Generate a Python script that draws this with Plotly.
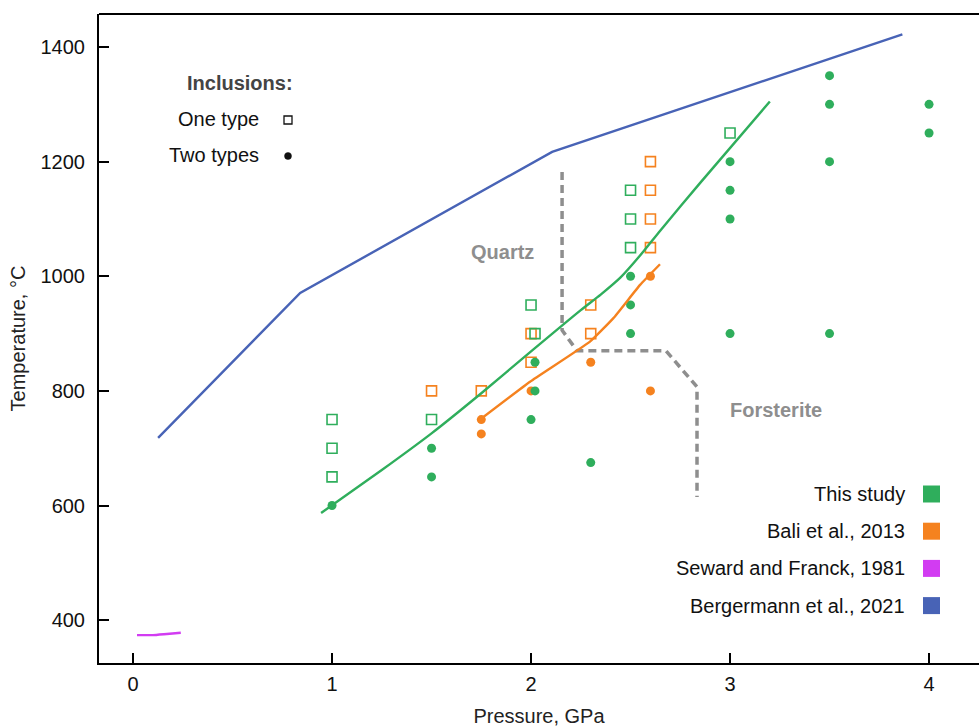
import plotly.graph_objects as go

# ---------------- data ----------------
# This study: runs with one type of inclusion (open squares)
this_one_P = [1.0, 1.0, 1.0, 1.5, 2.0, 2.02, 2.5, 2.5, 2.5, 3.0]
this_one_T = [750, 700, 650, 750, 950, 900, 1150, 1100, 1050, 1250]
# This study: runs with two types of inclusions (filled circles)
this_two_P = [1.0, 1.5, 1.5, 2.02, 2.02, 2.0, 2.3, 2.5, 2.5, 2.5,
              3.0, 3.0, 3.0, 3.0, 3.5, 3.5, 3.5, 3.5, 4.0, 4.0]
this_two_T = [600, 700, 650, 850, 800, 750, 675, 1000, 950, 900,
              1200, 1150, 1100, 900, 1350, 1300, 1200, 900, 1300, 1250]

# Bali et al., 2013
bali_one_P = [1.5, 1.75, 2.0, 2.0, 2.3, 2.3, 2.6, 2.6, 2.6, 2.6]
bali_one_T = [800, 800, 900, 850, 950, 900, 1200, 1150, 1100, 1050]
bali_two_P = [1.75, 1.75, 2.0, 2.3, 2.6, 2.6]
bali_two_T = [750, 725, 800, 850, 1000, 800]

# Critical curves
this_curve_P = [0.945, 1.25, 1.5, 1.75, 2.0, 2.25, 2.35, 2.45, 2.55, 2.65, 2.85, 3.2]
this_curve_T = [587, 662, 726, 796, 869, 941, 968, 998, 1037, 1080, 1163, 1305]
bali_curve_P = [1.744, 1.995, 2.296, 2.414, 2.548, 2.648]
bali_curve_T = [750, 816, 886, 927, 985, 1021]
seward_P = [0.02, 0.1, 0.17, 0.24]
seward_T = [374, 374, 376, 378]
berg_P = [0.126, 0.84, 2.106, 3.866]
berg_T = [718, 971, 1217, 1422]

# Quartz / forsterite stability boundary
qf_P = [2.156, 2.156, 2.231, 2.678, 2.834, 2.834]
qf_T = [1182, 906, 870, 870, 807, 615]

x_ticks = [0, 1, 2, 3, 4]
y_ticks = [400, 600, 800, 1000, 1200, 1400]

series_names = ["This study", "Bali et al., 2013",
                "Seward and Franck, 1981", "Bergermann et al., 2021"]

# ---------------- styling ----------------
GREEN = "#2fae5c"
ORANGE = "#f5821f"
MAGENTA = "#d23cf2"
BLUE = "#4863b6"
GREY = "#8e8e8e"
FONT = "Liberation Sans, Arial, Helvetica, sans-serif"

W, H = 979, 727
ML, MR, MT, MB = 99, 0, 14, 64
PW, PH = W - ML - MR, H - MT - MB


def px(xp):
    return (xp - ML) / PW


def py(yp):
    return (H - MB - yp) / PH


fig = go.Figure()


def open_sq(P, T, color):
    return go.Scatter(x=P, y=T, mode="markers", showlegend=False,
                      hoverinfo="x+y",
                      marker=dict(symbol="square-open", size=10, color=color,
                                  line=dict(width=1.6, color=color)))


def dots(P, T, color):
    return go.Scatter(x=P, y=T, mode="markers", showlegend=False,
                      hoverinfo="x+y",
                      marker=dict(symbol="circle", size=9, color=color,
                                  line=dict(width=0)))


fig.add_trace(open_sq(bali_one_P, bali_one_T, ORANGE))
fig.add_trace(dots(bali_two_P, bali_two_T, ORANGE))
fig.add_trace(open_sq(this_one_P, this_one_T, GREEN))
fig.add_trace(dots(this_two_P, this_two_T, GREEN))

# boundary between quartz and forsterite fields
fig.add_trace(go.Scatter(x=qf_P, y=qf_T, mode="lines", showlegend=False,
                         line=dict(color=GREY, width=3.5, dash="8px,5px")))

for P, T, c, shp, sm in [(this_curve_P, this_curve_T, GREEN, "spline", 0.6),
                         (bali_curve_P, bali_curve_T, ORANGE, "spline", 0.35),
                         (seward_P, seward_T, MAGENTA, "spline", 0.35),
                         (berg_P, berg_T, BLUE, "linear", None)]:
    line = dict(color=c, width=2.4, shape=shp)
    if sm is not None:
        line["smoothing"] = sm
    fig.add_trace(go.Scatter(x=P, y=T, mode="lines", showlegend=False, line=line))

annotations = []
shapes = []

# field labels
annotations.append(dict(x=1.859, y=1042, xref="x", yref="y", text="<b>Quartz</b>",
                        showarrow=False, font=dict(size=20, color=GREY, family=FONT)))
annotations.append(dict(x=3.231, y=767, xref="x", yref="y", text="<b>Forsterite</b>",
                        showarrow=False, font=dict(size=20, color=GREY, family=FONT)))

# inclusion-type key (top left)
annotations.append(dict(x=px(295), y=py(83), xref="paper", yref="paper",
                        xanchor="right", yanchor="middle", showarrow=False,
                        text="<b>Inclusions:</b>",
                        font=dict(size=20, color="#444444", family=FONT)))
for label, yc in [("One type", 119), ("Two types", 155)]:
    annotations.append(dict(x=px(261), y=py(yc), xref="paper", yref="paper",
                            xanchor="right", yanchor="middle", showarrow=False,
                            text=label, font=dict(size=20, color="#111111", family=FONT)))
shapes.append(dict(type="rect", xref="paper", yref="paper",
                   x0=px(284), x1=px(292), y0=py(116), y1=py(124),
                   line=dict(color="#111111", width=1.3), fillcolor="rgba(0,0,0,0)"))
shapes.append(dict(type="circle", xref="paper", yref="paper",
                   x0=px(284.5), x1=px(291.5), y0=py(152.5), y1=py(159.5),
                   line=dict(color="#111111", width=0.5), fillcolor="#111111"))

# series key (bottom right)
key_colors = [GREEN, ORANGE, MAGENTA, BLUE]
for i, (name, c) in enumerate(zip(series_names, key_colors)):
    yc = 494 + i * 37.2
    annotations.append(dict(x=px(907), y=py(yc), xref="paper", yref="paper",
                            xanchor="right", yanchor="middle", showarrow=False,
                            text=name, font=dict(size=20, color="#111111", family=FONT)))
    shapes.append(dict(type="rect", xref="paper", yref="paper",
                       x0=px(923), x1=px(940), y0=py(yc - 8.5), y1=py(yc + 8.5),
                       line=dict(width=0), fillcolor=c))

# top frame line
shapes.append(dict(type="line", xref="paper", yref="paper", x0=0, x1=1, y0=1, y1=1,
                   line=dict(color="black", width=2)))

axis_common = dict(showline=True, linecolor="black", linewidth=2,
                   ticks="inside", ticklen=10, tickwidth=2, tickcolor="black",
                   showgrid=False, zeroline=False,
                   tickfont=dict(size=20, color="#111111", family=FONT),
                   title_font=dict(size=20, color="#222222", family=FONT))

fig.update_layout(
    width=W, height=H,
    margin=dict(l=ML, r=MR, t=MT, b=MB, autoexpand=False),
    paper_bgcolor="white", plot_bgcolor="white",
    showlegend=False,
    annotations=annotations, shapes=shapes,
    xaxis=dict(range=[-0.171, 4.251], tickvals=x_ticks,
               ticklabelstandoff=2,
               title=dict(text="Pressure, GPa", standoff=17),
               **axis_common),
    yaxis=dict(range=[325.3, 1457.6], tickvals=y_ticks,
               ticklabelstandoff=8,
               title=dict(text="Temperature, °C", standoff=10),
               **axis_common),
)

fig.write_html("out.html")
